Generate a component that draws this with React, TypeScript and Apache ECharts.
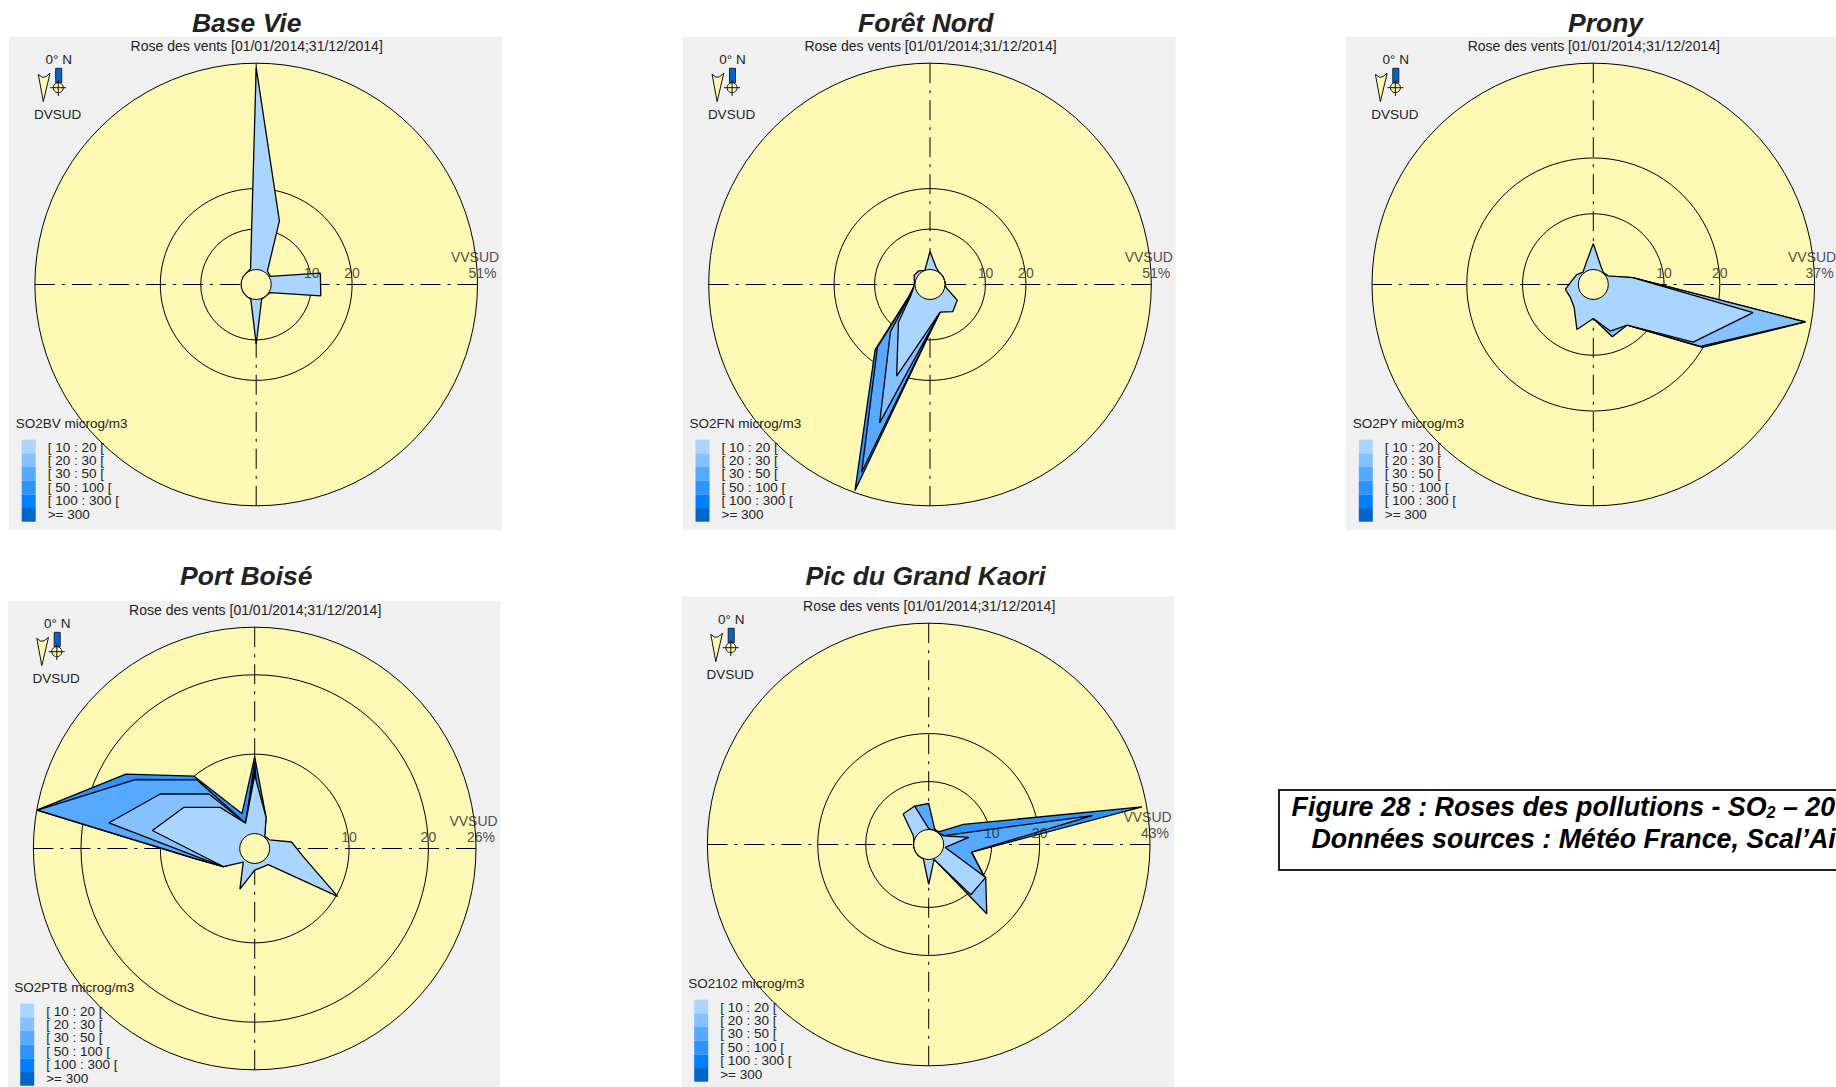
import React, { useEffect, useRef } from "react";
import * as echarts from "echarts";

const directions = [0, 20, 40, 60, 80, 100, 120, 140, 160, 180, 200, 220, 240, 260, 280, 300, 320, 340];

const legendLabels = ["[ 10 : 20 [", "[ 20 : 30 [", "[ 30 : 50 [", "[ 50 : 100 [", "[ 100 : 300 [", ">= 300"];
const legendColors = ["#AAD5FF", "#85C1FF", "#55AAFF", "#2D94FF", "#0080FF", "#0066CC"];
const ringValues = [10, 20];

// Frequency (%) per wind direction, one list per concentration class.
const baseVie10 = [49.9, 13.05, 0.6, 0.3, 12.4, 12.5, 0.3, 0, 0.2, 11, 0.2, 0, 0, 0, 0, 0, 0, 0.4];

const foret10 = [4.45, 0.77, 0, 0, 0, 0.3, 4.07, 5.05, 3.56, 6.85, 20.4, 8.45, 1.76, 0.4, 0.2, 0.83, 0.67, 0];
const foret20 = [0, 0, 0, 0, 0, 0, 0, 0, 3.56, 7.7, 32.7, 11.5, 2.1, 0.4, 0, 0, 0, 0];
const foret30 = [0, 0, 0, 0, 0, 0, 0, 0, 3.56, 8.1, 45.7, 16.5, 2.27, 0.4, 0, 0, 0, 0];
const foret50 = [0, 0, 0, 0, 0, 0, 0, 0, 3.56, 8.3, 50.5, 17.4, 2.4, 0.4, 0, 0, 0, 0];

const prony10 = [4.65, 1.05, 0.1, 0.4, 4.48, 26.4, 18, 6.8, 6.2, 3.4, 5.9, 2.66, 2.04, 2.4, 1.21, 0.8, 0.2, 1.25];
const prony20 = [0, 0, 0, 0, 4.48, 35.8, 19.5, 6.8, 7.3, 3.4, 0, 0, 0, 0, 0, 0, 0, 0];
const prony100 = [0, 0, 0, 0, 4.48, 36, 19.9, 6.8, 0, 0, 0, 0, 0, 0, 0, 0, 0, 0];

const port10 = [7.35, 2.3, 0.1, 0.3, 2.83, 4.37, 10.18, 0.76, 0.64, 0.84, 3.56, 0.35, 2.68, 4.48, 11.2, 8.45, 4.88, 1.49];
const port20 = [8.2, 0, 0, 0, 0, 0, 0, 0, 0, 0, 0, 0, 2.68, 5.05, 16.76, 11.85, 7.08, 1.49];
const port30 = [9, 0, 0, 0, 0, 0, 0, 0, 0, 0, 0, 0, 2.68, 5.57, 25.9, 15.5, 9.39, 1.49];
const port50 = [9.67, 2.3, 0, 0, 0, 0, 0, 0, 0, 0, 0, 0, 2.68, 5.7, 26, 16.85, 10, 2.8];

const kaori10 = [0.2, 0, 0, 0.5, 5.35, 0.38, 10.6, 10.54, 0.17, 5.2, 0.1, 0, 0, 0, 0, 0.56, 5.17, 5.4];
const kaori20 = [0, 0, 0, 0, 0, 0, 10.6, 15.7, 0.17, 0, 0, 0, 0, 0, 0, 0, 0, 0];
const kaori30 = [5.42, 0.43, 0, 0.56, 31.5, 5.9, 10.2, 0, 0, 0, 0, 0, 0, 0, 0, 0, 0, 5.4];
const kaori50 = [0, 0, 0.35, 5.27, 42, 6, 10.3, 0, 0, 0, 0, 0, 0, 0, 0, 0, 0, 0];

type Layer = { color: string; values: number[] };
type Panel = {
  title: string;
  titleX: number;
  titleY: number;
  cx: number;
  cy: number;
  max: number;
  slope: number;
  pollutant: string;
  layers: Layer[];
};

const panels: Panel[] = [
  {
    title: "Base Vie", titleX: 246.7, titleY: 22.7, cx: 256.2, cy: 284.5, max: 51, slope: 4.045,
    pollutant: "SO2BV microg/m3",
    layers: [{ color: legendColors[0], values: baseVie10 }],
  },
  {
    title: "Forêt Nord", titleX: 925.8, titleY: 22.7, cx: 930, cy: 284.5, max: 51, slope: 4.045,
    pollutant: "SO2FN microg/m3",
    layers: [
      { color: legendColors[3], values: foret50 },
      { color: legendColors[2], values: foret30 },
      { color: legendColors[1], values: foret20 },
      { color: legendColors[0], values: foret10 },
    ],
  },
  {
    title: "Prony", titleX: 1605.5, titleY: 22.7, cx: 1593.3, cy: 284.5, max: 37, slope: 5.586,
    pollutant: "SO2PY microg/m3",
    layers: [
      { color: legendColors[4], values: prony100 },
      { color: legendColors[1], values: prony20 },
      { color: legendColors[0], values: prony10 },
    ],
  },
  {
    title: "Port Boisé", titleX: 246.3, titleY: 575.7, cx: 254.7, cy: 848.5, max: 26, slope: 7.93,
    pollutant: "SO2PTB microg/m3",
    layers: [
      { color: legendColors[3], values: port50 },
      { color: legendColors[2], values: port30 },
      { color: legendColors[1], values: port20 },
      { color: legendColors[0], values: port10 },
    ],
  },
  {
    title: "Pic du Grand Kaori", titleX: 925.5, titleY: 575.7, cx: 928.7, cy: 844.5, max: 43, slope: 4.8,
    pollutant: "SO2102 microg/m3",
    layers: [
      { color: legendColors[3], values: kaori50 },
      { color: legendColors[2], values: kaori30 },
      { color: legendColors[1], values: kaori20 },
      { color: legendColors[0], values: kaori10 },
    ],
  },
];

const R = 221.3;
const HOLE = 15;
const YELLOW = "#FDF8B3";
const INK = "#222222";
const FAMILY = '"Liberation Sans"';
const SMALL = `13.5px ${FAMILY}`;
const HEADER = `14px ${FAMILY}`;
const TITLE = `italic bold 26.5px ${FAMILY}`;
const CAPTION = `italic bold 26.8px ${FAMILY}`;

function txt(x: number, y: number, text: string, font: string, align = "center", z = 5): any {
  return { type: "text", x, y, z, silent: true, style: { text, font, fill: INK, align, verticalAlign: "middle" } };
}

function panelGraphics(p: Panel): any[] {
  const { cx, cy } = p;
  const out: any[] = [
    { type: "rect", z: -2, silent: true, shape: { x: cx - 247.3, y: cy - 247.7, width: 493, height: 493 }, style: { fill: "#F0F0F0" } },
    { type: "circle", z: -1, silent: true, shape: { cx, cy, r: R }, style: { fill: YELLOW } },
    { type: "circle", z: 10, silent: true, shape: { cx, cy, r: HOLE }, style: { fill: YELLOW, stroke: "#000", lineWidth: 1 } },
    txt(p.titleX, p.titleY, p.title, TITLE),
    txt(cx + 0.5, cy - 239, "Rose des vents [01/01/2014;31/12/2014]", HEADER),
    txt(cx - 197.5, cy - 225.5, "0° N", SMALL),
    txt(cx - 198.5, cy - 170.5, "DVSUD", SMALL),
    txt(cx - 240.5, cy + 139, p.pollutant, SMALL, "left"),
    {
      type: "polygon", z: 5, silent: true,
      shape: { points: [[cx - 217.9, cy - 210.2], [cx - 213.9, cy - 207.2], [cx - 210.5, cy - 207.8], [cx - 206.2, cy - 211.2], [cx - 212.9, cy - 182.8]] },
      style: { fill: YELLOW, stroke: "#111", lineWidth: 1 },
    },
    { type: "rect", z: 5, silent: true, shape: { x: cx - 200.5, y: cy - 216.2, width: 6, height: 14.4 }, style: { fill: "#0066CC", stroke: "#222", lineWidth: 1 } },
    { type: "circle", z: 5, silent: true, shape: { cx: cx - 197.9, cy: cy - 196.8, r: 5 }, style: { fill: YELLOW, stroke: "#111", lineWidth: 1 } },
    { type: "line", z: 5, silent: true, shape: { x1: cx - 206, y1: cy - 196.8, x2: cx - 190, y2: cy - 196.8 }, style: { stroke: "#111", lineWidth: 1 } },
    { type: "line", z: 5, silent: true, shape: { x1: cx - 197.9, y1: cy - 204, x2: cx - 197.9, y2: cy - 188.5 }, style: { stroke: "#111", lineWidth: 1 } },
  ];
  legendColors.forEach((color, i) => {
    out.push({
      type: "rect", z: 5, silent: true,
      shape: { x: cx - 234.5, y: cy + 155.2 + i * 13.67, width: 14, height: 13.67 },
      style: { fill: color },
    });
  });
  legendLabels.forEach((label, i) => {
    out.push(txt(cx - 208.5, cy + 162.5 + i * 13.4, label, SMALL, "left"));
  });
  return out;
}

function captionGraphics(): any[] {
  return [
    { type: "rect", z: 5, silent: true, shape: { x: 1279, y: 790, width: 570, height: 80 }, style: { fill: "#fff", stroke: "#222", lineWidth: 2 } },
    {
      type: "text", z: 6, x: 1291.6, y: 807, silent: true,
      style: {
        text: "{a|Figure 28 : Roses des pollutions - SO}{b|2}{a| – 20}",
        fill: "#000", align: "left", verticalAlign: "middle",
        rich: {
          a: { font: CAPTION, fill: "#000" },
          b: { font: `italic bold 16px ${FAMILY}`, fill: "#000", verticalAlign: "bottom", lineHeight: 24 },
        },
      },
    },
    {
      type: "text", z: 6, x: 1311.5, y: 838.5, silent: true,
      style: { text: "Données sources : Météo France, Scal’Air", font: CAPTION, fill: "#000", align: "left", verticalAlign: "middle" },
    },
  ];
}

const labelText = { show: true, position: "top", fontSize: 14, fontFamily: FAMILY, color: INK };

function buildOption(): any {
  const polar = panels.map((p) => ({ center: [p.cx, p.cy], radius: [0, R] }));
  const angleAxis = panels.map((_, i) => ({
    polarIndex: i, type: "value", min: 0, max: 360, interval: 90, startAngle: 90, clockwise: true, z: 1,
    axisLine: { show: true, lineStyle: { color: "#000", width: 1 } },
    axisTick: { show: false },
    axisLabel: { show: false },
    minorTick: { show: false },
    splitLine: { show: true, lineStyle: { color: "#000", width: 1, type: [20, 7, 3, 7] } },
  }));
  const radiusAxis = panels.map((p, i) => ({
    polarIndex: i, type: "value", min: -HOLE / p.slope, max: p.max, z: 1,
    axisLine: { show: false },
    axisTick: { show: false, customValues: ringValues },
    axisLabel: { show: false },
    splitLine: { show: true, lineStyle: { color: "#000", width: 1 } },
  }));
  const series: any[] = [];
  panels.forEach((p, i) => {
    p.layers.forEach((layer, k) => {
      const data = layer.values.map((v, d) => [v, directions[d]]);
      data.push([layer.values[0], 360]);
      series.push({
        type: "line", coordinateSystem: "polar", polarIndex: i, data, clip: false, z: 2 + k,
        showSymbol: false, symbol: "none", silent: true,
        lineStyle: { color: "#000", width: 1.3 },
        areaStyle: { color: layer.color, opacity: 1 },
      });
    });
    series.push({
      type: "scatter", coordinateSystem: "polar", polarIndex: i, z: 8, symbolSize: 1, silent: true,
      itemStyle: { color: "transparent" },
      data: ringValues.map((v) => [v, 90]),
      label: { ...labelText, distance: 4, formatter: (d: any) => String(d.value[0]) },
    });
    series.push({
      type: "scatter", coordinateSystem: "polar", polarIndex: i, z: 8, symbolSize: 1, silent: true,
      itemStyle: { color: "transparent" },
      data: [
        { value: [p.max, 90], label: { ...labelText, distance: 4, offset: [-2.5, -16], formatter: "VVSUD" } },
        { value: [p.max, 90], label: { ...labelText, distance: 4, offset: [5, 0], formatter: `${p.max}%` } },
      ],
    });
  });
  return {
    animation: false,
    backgroundColor: "#fff",
    tooltip: { show: false },
    polar,
    angleAxis,
    radiusAxis,
    series,
    graphic: { elements: [...panels.flatMap(panelGraphics), ...captionGraphics()] },
  };
}

export default function App() {
  const ref = useRef<HTMLDivElement>(null);
  useEffect(() => {
    const chart = echarts.init(ref.current as HTMLDivElement, undefined, { renderer: "svg" });
    chart.setOption(buildOption());
    return () => chart.dispose();
  }, []);
  return <div ref={ref} style={{ position: "absolute", left: 0, top: 0, width: 1836, height: 1087 }} />;
}
